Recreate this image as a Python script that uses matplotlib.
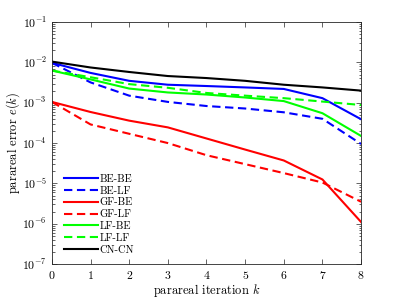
import numpy as np
import matplotlib
matplotlib.use("Agg")
import matplotlib.pyplot as plt
from matplotlib.ticker import LogLocator, NullFormatter

plt.rcParams['font.family'] = 'serif'
plt.rcParams['font.serif'] = ['cmr10', 'DejaVu Serif']
plt.rcParams['mathtext.fontset'] = 'cm'
plt.rcParams['axes.formatter.use_mathtext'] = True

k = [0, 1, 2, 3, 4, 5, 6, 7, 8]

be_be = [9.8e-3, 5.5e-3, 3.5e-3, 2.8e-3, 2.6e-3, 2.4e-3, 2.2e-3, 1.3e-3, 3.9e-4]
be_lf = [9.8e-3, 3.2e-3, 1.5e-3, 1.05e-3, 8.3e-4, 7.2e-4, 5.8e-4, 4.0e-4, 9.5e-5]
gf_be = [1.05e-3, 5.9e-4, 3.6e-4, 2.45e-4, 1.3e-4, 6.9e-5, 3.7e-5, 1.25e-5, 1.1e-6]
gf_lf = [1.05e-3, 2.9e-4, 1.7e-4, 1.0e-4, 5.0e-5, 3.0e-5, 1.8e-5, 1.05e-5, 3.5e-6]
lf_be = [6.3e-3, 3.8e-3, 2.25e-3, 1.8e-3, 1.6e-3, 1.35e-3, 1.1e-3, 5.5e-4, 1.5e-4]
lf_lf = [6.3e-3, 4.3e-3, 2.9e-3, 2.35e-3, 1.75e-3, 1.5e-3, 1.3e-3, 1.07e-3, 8.8e-4]
cn_cn = [1.05e-2, 7.5e-3, 5.8e-3, 4.6e-3, 4.1e-3, 3.5e-3, 2.8e-3, 2.4e-3, 2.0e-3]

fig = plt.figure(figsize=(3.99, 2.99), dpi=100)
ax = fig.add_axes([0.130, 0.117, 0.775, 0.809])

lw = 1.5
dash = (4, 2.2)
ax.plot(k, be_be, color='b', lw=lw, label='BE-BE')
ax.plot(k, be_lf, color='b', lw=lw, dashes=dash, label='BE-LF')
ax.plot(k, gf_be, color='r', lw=lw, label='GF-BE')
ax.plot(k, gf_lf, color='r', lw=lw, dashes=dash, label='GF-LF')
ax.plot(k, lf_be, color='#00ff00', lw=lw, label='LF-BE')
ax.plot(k, lf_lf, color='#00ff00', lw=lw, dashes=dash, label='LF-LF')
ax.plot(k, cn_cn, color='k', lw=lw, label='CN-CN')

ax.set_yscale('log')
ax.set_xlim(0, 8)
ax.set_ylim(1e-7, 1e-1)
ax.set_xticks(k)
ax.yaxis.set_major_locator(LogLocator(base=10, numticks=10))
ax.yaxis.set_minor_locator(LogLocator(base=10, subs=np.arange(2, 10), numticks=20))
ax.yaxis.set_minor_formatter(NullFormatter())

for s in ax.spines.values():
    s.set_color('0.15')
    s.set_linewidth(0.6)
ax.tick_params(which='both', direction='in', top=True, right=True,
               colors='0.15', labelcolor='k', labelsize=8.5, width=0.5)
ax.tick_params(which='major', length=3.5)
ax.tick_params(which='minor', length=1.8)

ax.set_xlabel('parareal iteration $k$', fontsize=9, labelpad=1)
ax.set_ylabel('parareal error $e(k)$', fontsize=9, labelpad=0)

ax.legend(loc='lower left', frameon=False, fontsize=7.6, handlelength=3.2,
          handletextpad=0.1, labelspacing=0.22, borderaxespad=0.2,
          bbox_to_anchor=(0.02, 0.012))

fig.savefig('out.png', dpi=100)
